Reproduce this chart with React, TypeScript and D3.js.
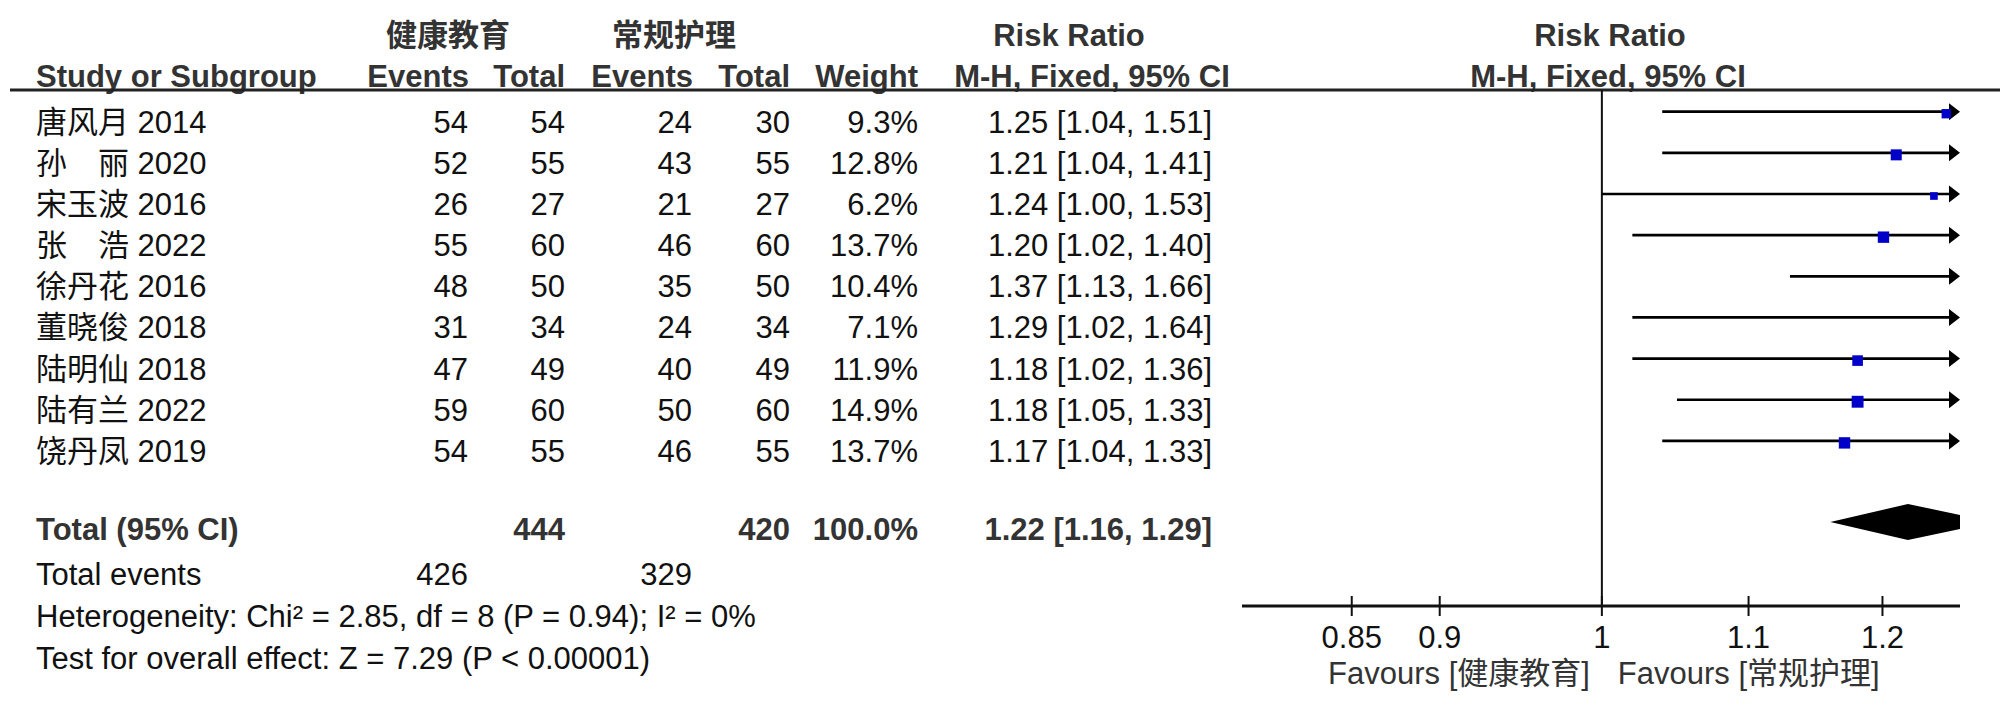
import React from "react";
import * as d3 from "d3";

const studies = ["唐风月 2014", "孙\u3000丽 2020", "宋玉波 2016", "张\u3000浩 2022", "徐丹花 2016", "董晓俊 2018", "陆明仙 2018", "陆有兰 2022", "饶丹凤 2019"];
const expEvents = [54, 52, 26, 55, 48, 31, 47, 59, 54];
const expTotal = [54, 55, 27, 60, 50, 34, 49, 60, 55];
const ctrlEvents = [24, 43, 21, 46, 35, 24, 40, 50, 46];
const ctrlTotal = [30, 55, 27, 60, 50, 34, 49, 60, 55];
const weights = [9.3, 12.8, 6.2, 13.7, 10.4, 7.1, 11.9, 14.9, 13.7];
const rr = [1.25, 1.21, 1.24, 1.2, 1.37, 1.29, 1.18, 1.18, 1.17];
const lower = [1.04, 1.04, 1.0, 1.02, 1.13, 1.02, 1.02, 1.05, 1.04];
const upper = [1.51, 1.41, 1.53, 1.4, 1.66, 1.64, 1.36, 1.33, 1.33];
const totalEst = [1.22, 1.16, 1.29];
const totalN = [444, 420];
const totalEvents = [426, 329];
const tickValues = [0.85, 0.9, 1, 1.1, 1.2];
const groupNames = ["健康教育", "常规护理"];
const hetText = "Heterogeneity: Chi² = 2.85, df = 8 (P = 0.94); I² = 0%";
const effectText = "Test for overall effect: Z = 7.29 (P < 0.00001)";

const FONT = "'Liberation Sans', Arial, 'Noto Sans CJK SC', sans-serif";
const FS = 31;
const BOLD_COLOR = "#333";
const TEXT_COLOR = "#111";

const col = { name: 36, ev1: 468, tot1: 565, ev2: 692, tot2: 790, wt: 918, ci: 1212 };

const fmt2 = (v: number) => v.toFixed(2);

export default function App() {
  const x = d3.scaleLog().domain([0.7915, 1.262]).range([1242, 1960]);
  const rowY = d3.scaleLinear().domain([0, studies.length - 1]).range([132.7, 461.9]);
  const xMin = x.range()[0];
  const xMax = x.range()[1];
  const lineOffset = 21;
  const totalBase = 540;
  const diamondY = totalBase - 18;
  const axisY = 606;

  const sizeScale = d3.scaleSqrt().domain([0, 16]).range([0, 12.3]);

  const diamond = d3.line()([
    [x(totalEst[1]), diamondY],
    [x(totalEst[0]), diamondY - 18],
    [x(totalEst[2]), diamondY],
    [x(totalEst[0]), diamondY + 18],
  ]) + "Z";

  const txt = (props: any, s: string, key?: any) => (
    <text key={key} fontFamily={FONT} fontSize={FS} fill={TEXT_COLOR} {...props}>
      {s}
    </text>
  );
  const btxt = (props: any, s: string, key?: any) => (
    <text key={key} fontFamily={FONT} fontSize={FS} fontWeight="bold" fill={BOLD_COLOR} {...props}>
      {s}
    </text>
  );

  return (
    <svg width={2000} height={709} style={{ position: "absolute", left: 0, top: 0, background: "#fff" }}>
      <rect x={0} y={0} width={2000} height={709} fill="#fff" />
      <defs>
        <clipPath id="plotclip">
          <rect x={xMin} y={0} width={xMax - xMin} height={709} />
        </clipPath>
      </defs>

      {/* headers */}
      {btxt({ x: 448, y: 46, textAnchor: "middle" }, groupNames[0])}
      {btxt({ x: 674, y: 46, textAnchor: "middle" }, groupNames[1])}
      {btxt({ x: 1069, y: 46, textAnchor: "middle" }, "Risk Ratio")}
      {btxt({ x: 1610, y: 46, textAnchor: "middle" }, "Risk Ratio")}

      {btxt({ x: col.name, y: 86.5 }, "Study or Subgroup")}
      {btxt({ x: col.ev1 + 1, y: 86.5, textAnchor: "end" }, "Events")}
      {btxt({ x: col.tot1, y: 86.5, textAnchor: "end" }, "Total")}
      {btxt({ x: col.ev2 + 1, y: 86.5, textAnchor: "end" }, "Events")}
      {btxt({ x: col.tot2, y: 86.5, textAnchor: "end" }, "Total")}
      {btxt({ x: col.wt, y: 86.5, textAnchor: "end" }, "Weight")}
      {btxt({ x: 1092, y: 86.5, textAnchor: "middle" }, "M-H, Fixed, 95% CI")}
      {btxt({ x: 1608, y: 86.5, textAnchor: "middle" }, "M-H, Fixed, 95% CI")}

      <line x1={10} x2={2000} y1={90} y2={90} stroke="#222" strokeWidth={3} />

      {/* study rows */}
      {studies.map((s, i) => {
        const y = rowY(i);
        return (
          <g key={i}>
            {txt({ x: col.name, y }, s)}
            {txt({ x: col.ev1, y, textAnchor: "end" }, String(expEvents[i]))}
            {txt({ x: col.tot1, y, textAnchor: "end" }, String(expTotal[i]))}
            {txt({ x: col.ev2, y, textAnchor: "end" }, String(ctrlEvents[i]))}
            {txt({ x: col.tot2, y, textAnchor: "end" }, String(ctrlTotal[i]))}
            {txt({ x: col.wt, y, textAnchor: "end" }, weights[i].toFixed(1) + "%")}
            {txt({ x: col.ci, y, textAnchor: "end" }, `${fmt2(rr[i])} [${fmt2(lower[i])}, ${fmt2(upper[i])}]`)}
          </g>
        );
      })}

      {/* total rows */}
      {btxt({ x: col.name, y: totalBase }, "Total (95% CI)")}
      {btxt({ x: col.tot1, y: totalBase, textAnchor: "end" }, String(totalN[0]))}
      {btxt({ x: col.tot2, y: totalBase, textAnchor: "end" }, String(totalN[1]))}
      {btxt({ x: col.wt, y: totalBase, textAnchor: "end" }, "100.0%")}
      {btxt({ x: col.ci, y: totalBase, textAnchor: "end" }, `${fmt2(totalEst[0])} [${fmt2(totalEst[1])}, ${fmt2(totalEst[2])}]`)}
      {txt({ x: col.name, y: 585 }, "Total events")}
      {txt({ x: col.ev1, y: 585, textAnchor: "end" }, String(totalEvents[0]))}
      {txt({ x: col.ev2, y: 585, textAnchor: "end" }, String(totalEvents[1]))}
      {txt({ x: col.name, y: 627 }, hetText)}
      {txt({ x: col.name, y: 669 }, effectText)}

      {/* forest plot */}
      <line x1={x(1)} x2={x(1)} y1={90} y2={axisY} stroke="#111" strokeWidth={2} />

      {studies.map((s, i) => {
        const ly = rowY(i) - lineOffset;
        const x1 = Math.max(xMin, x(lower[i]));
        const overRight = upper[i] > x.domain()[1];
        const x2 = overRight ? xMax - 8 : x(upper[i]);
        const side = sizeScale(weights[i]);
        const inRange = rr[i] <= x.domain()[1] && rr[i] >= x.domain()[0];
        return (
          <g key={"f" + i}>
            <line x1={x1} x2={x2} y1={ly} y2={ly} stroke="#000" strokeWidth={2.7} />
            {overRight && (
              <path d={`M${xMax},${ly} L${xMax - 11},${ly - 8.5} L${xMax - 11},${ly + 8.5} Z`} fill="#000" />
            )}
            {inRange && (
              <rect x={x(rr[i]) + 1 - side / 2} y={ly + 2 - side / 2} width={side} height={side} fill="#0000C8" />
            )}
          </g>
        );
      })}

      <path d={diamond} fill="#000" clipPath="url(#plotclip)" />

      {/* axis */}
      <line x1={xMin} x2={xMax} y1={axisY} y2={axisY} stroke="#111" strokeWidth={3} />
      {tickValues.map((t) => (
        <g key={"t" + t}>
          <line x1={x(t)} x2={x(t)} y1={axisY - 10} y2={axisY + 10} stroke="#111" strokeWidth={2} />
          {txt({ x: x(t), y: 648, textAnchor: "middle" }, String(t))}
        </g>
      ))}
      {txt({ x: x(1) - 12, y: 684, textAnchor: "end", fill: "#333" }, `Favours [${groupNames[0]}]`)}
      {txt({ x: x(1) + 16, y: 684, textAnchor: "start", fill: "#333" }, `Favours [${groupNames[1]}]`)}
    </svg>
  );
}
